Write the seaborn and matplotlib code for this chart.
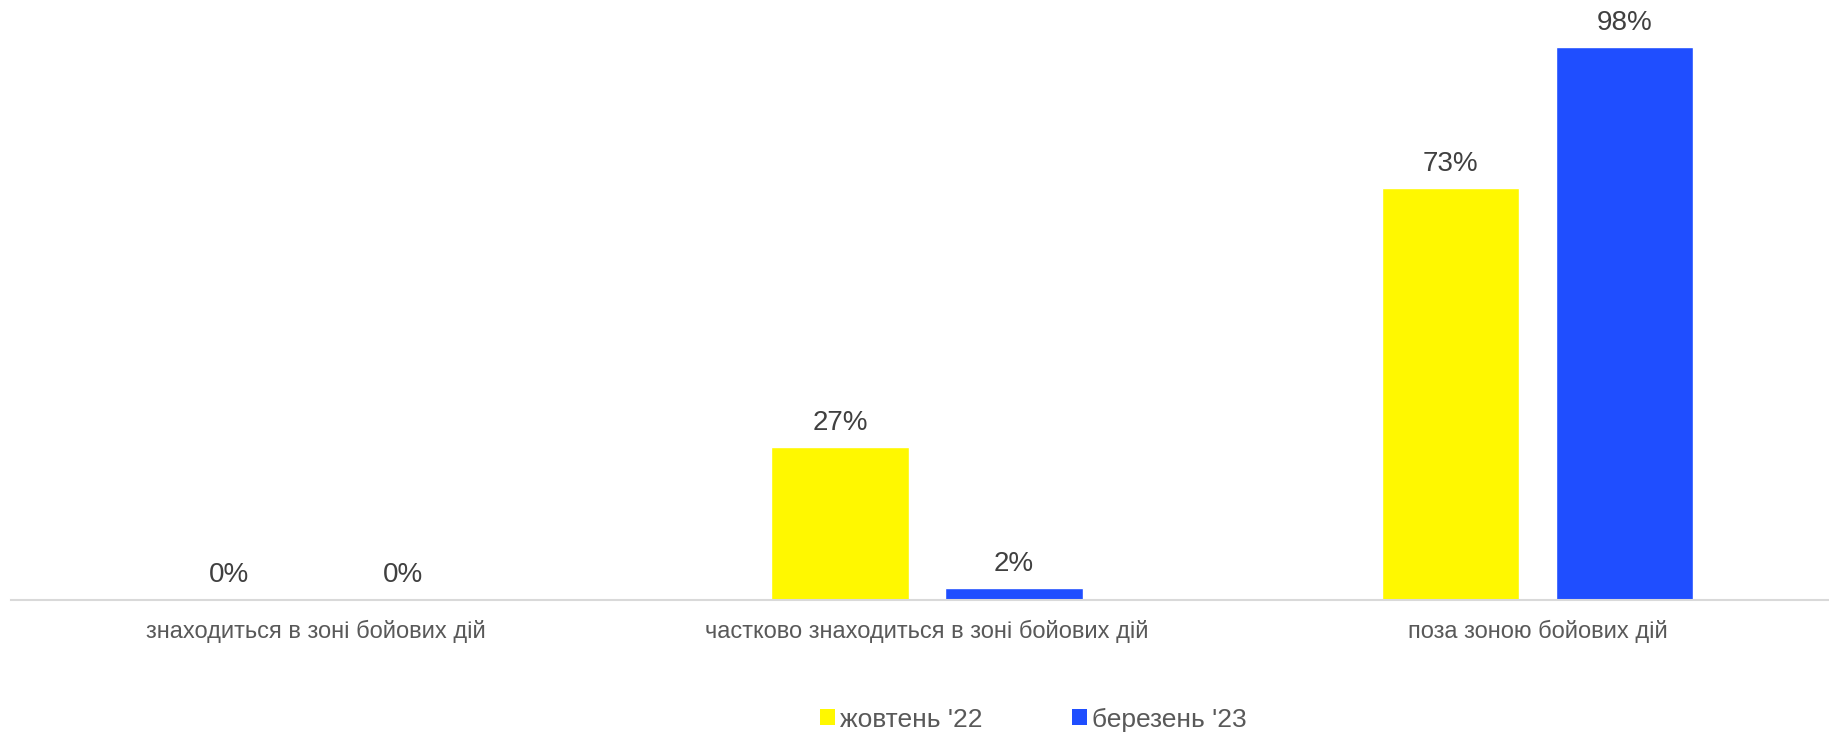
import matplotlib
matplotlib.use("Agg")
import matplotlib.pyplot as plt
from matplotlib.patches import Patch
import seaborn as sns
import pandas as pd

categories = [
    "знаходиться в зоні бойових дій",
    "частково знаходиться в зоні бойових дій",
    "поза зоною бойових дій",
]
series_names = ["жовтень '22", "березень '23"]
oct_22 = [0, 27, 73]
mar_23 = [0, 2, 98]
colors = ["#FFF800", "#1F4EFF"]

df = pd.DataFrame({
    "category": categories * 2,
    "period": [series_names[0]] * 3 + [series_names[1]] * 3,
    "value": oct_22 + mar_23,
})

sns.set_theme(style="white")
plt.rcParams["font.family"] = ["Liberation Sans", "DejaVu Sans"]

fig = plt.figure(figsize=(18.29, 7.33), dpi=100)
ax = fig.add_axes([11 / 1829, 1 - 599.5 / 733, 1 - 11 / 1829, 563.5 / 733])

sns.barplot(
    data=df, x="category", y="value", hue="period",
    order=categories, hue_order=series_names,
    palette=colors, width=0.57, gap=0.21, saturation=1,
    legend=False, ax=ax,
)

ax.set_xlim(-0.5, 2.477)
ax.set_ylim(0, 100)
ax.set_xlabel("")
ax.set_ylabel("")
ax.set_yticks([])
for side in ["top", "right", "left"]:
    ax.spines[side].set_visible(False)
ax.spines["bottom"].set_color("#D9D9D9")
ax.spines["bottom"].set_linewidth(1.5)
ax.tick_params(axis="x", length=0, pad=15, labelsize=17, labelcolor="#595959")

for container in ax.containers:
    ax.bar_label(container, fmt="%g%%", padding=8, fontsize=20,
                 color="#404040", clip_on=False)

handles = [Patch(facecolor=c, edgecolor="none", label=n)
           for c, n in zip(colors, series_names)]
fig.legend(handles=handles, loc="center", bbox_to_anchor=(1033.5 / 1829, 1 - 719.5 / 733),
           ncol=2, frameon=False, fontsize=19, labelcolor="#595959",
           handlelength=0.55, handleheight=0.55, handletextpad=0.2,
           columnspacing=3.4)

fig.savefig("out.png", dpi=100, facecolor="white")
